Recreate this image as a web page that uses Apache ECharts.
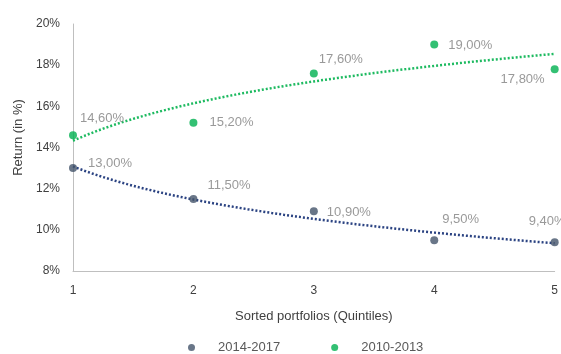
<!DOCTYPE html>
<html>
<head>
<meta charset="utf-8">
<script src="https://cdn.jsdelivr.net/npm/echarts@6/dist/echarts.min.js"></script>
<style>
  html, body { margin: 0; padding: 0; background: #fff; }
  #chart { width: 561px; height: 354px; }
</style>
</head>
<body>
<div id="chart"></div>
<script>
// Quintile portfolios and their average returns (%) for two periods
const quintiles = [1, 2, 3, 4, 5];
const returns2014_2017 = [13.0, 11.5, 10.9, 9.5, 9.4];
const returns2010_2013 = [14.6, 15.2, 17.6, 19.0, 17.8];
const yTicks = [8, 10, 12, 14, 16, 18, 20];

// Label placement per point: [dx, dy, align] relative to the marker centre
const labelPlacement2014 = [[15, -5, 'left'], [14, -14, 'left'], [13, 1, 'left'], [8, -21, 'left'], [-26, -21, 'left']];
const labelPlacement2010 = [[7, -17, 'left'], [16, 0, 'left'], [5, -14, 'left'], [14, 1, 'left'], [-10, 10, 'right']];

const SYMBOL = 8;
const fmt = v => v.toFixed(2).replace('.', ',') + '%';

// Logarithmic least-squares trendline y = a + b ln(x)
function logTrend(xs, ys) {
  const lx = xs.map(Math.log);
  const n = xs.length;
  const mx = lx.reduce((s, v) => s + v, 0) / n;
  const my = ys.reduce((s, v) => s + v, 0) / n;
  let sxy = 0, sxx = 0;
  for (let i = 0; i < n; i++) {
    sxy += (lx[i] - mx) * (ys[i] - my);
    sxx += (lx[i] - mx) * (lx[i] - mx);
  }
  const b = sxy / sxx, a = my - b * mx;
  const pts = [];
  for (let x = xs[0]; x <= xs[n - 1] + 1e-9; x += 0.05) pts.push([x, a + b * Math.log(x)]);
  return pts;
}

function points(ys, placement) {
  return quintiles.map((q, i) => ({
    value: [q, ys[i]],
    label: {
      position: [placement[i][0] + SYMBOL / 2, placement[i][1] + SYMBOL / 2],
      align: placement[i][2],
      verticalAlign: 'middle'
    }
  }));
}

const blue = '#44546A';
const green = '#00B050';
const fontFamily = '"Liberation Sans", "Open Sans", sans-serif';

const chart = echarts.init(document.getElementById('chart'));
chart.setOption({
  animation: false,
  textStyle: { fontFamily },
  grid: { left: 73, right: 3, top: 24, bottom: 83, containLabel: false },
  xAxis: {
    type: 'value', min: 1, max: 5, interval: 1,
    name: 'Sorted portfolios (Quintiles)',
    nameLocation: 'middle', nameGap: 39,
    nameTextStyle: { color: '#404040', fontSize: 13, fontFamily },
    axisLine: { lineStyle: { color: '#BFBFBF' } },
    axisTick: { show: false },
    splitLine: { show: false },
    axisLabel: { color: '#404040', fontSize: 12, margin: 14, fontFamily }
  },
  yAxis: {
    type: 'value', min: yTicks[0], max: yTicks[yTicks.length - 1], interval: 2,
    name: 'Return (in %)',
    nameLocation: 'middle', nameGap: 46, nameRotate: 90,
    nameTextStyle: { color: '#404040', fontSize: 13, fontFamily, padding: [0, 0, 0, 20] },
    axisLine: { show: true, lineStyle: { color: '#BFBFBF' } },
    axisTick: { show: false },
    splitLine: { show: false },
    axisLabel: { color: '#404040', fontSize: 12, margin: 13, formatter: '{value}%', fontFamily }
  },
  legend: {
    left: 188, top: 341, padding: 0, itemGap: 51,
    itemWidth: 7, itemHeight: 7,
    icon: 'circle',
    data: ['2014-2017', '2010-2013'],
    textStyle: { color: '#595959', fontSize: 13, padding: [0, 0, 0, 18], fontFamily }
  },
  series: [
    {
      name: '2014-2017 trend', type: 'line', data: logTrend(quintiles, returns2014_2017),
      showSymbol: false, silent: true,
      lineStyle: { color: '#2B4382', width: 2.5, type: [2, 2] }, z: 1
    },
    {
      name: '2010-2013 trend', type: 'line', data: logTrend(quintiles, returns2010_2013),
      showSymbol: false, silent: true,
      lineStyle: { color: '#1DBA60', width: 2.5, type: [2, 2] }, z: 1
    },
    {
      name: '2014-2017', type: 'scatter', symbolSize: SYMBOL,
      itemStyle: { color: blue },
      data: points(returns2014_2017, labelPlacement2014),
      label: { show: true, color: '#7F7F7F', fontSize: 13, fontFamily, formatter: p => fmt(p.value[1]) },
      z: 3
    },
    {
      name: '2010-2013', type: 'scatter', symbolSize: SYMBOL,
      itemStyle: { color: green },
      data: points(returns2010_2013, labelPlacement2010),
      label: { show: true, color: '#7F7F7F', fontSize: 13, fontFamily, formatter: p => fmt(p.value[1]) },
      z: 3
    }
  ]
});
</script>
</body>
</html>
